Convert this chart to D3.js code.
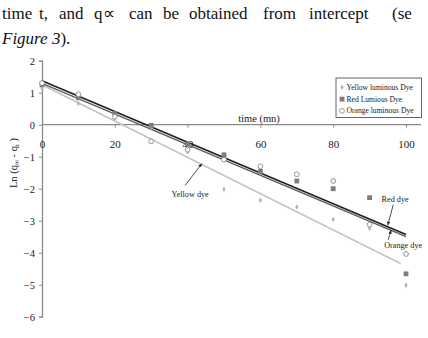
<!DOCTYPE html>
<html>
<head>
<meta charset="utf-8">
<script src="https://cdn.jsdelivr.net/npm/d3@7"></script>
<style>
  body { margin: 0; background: #fff; }
  svg text { font-family: "Liberation Serif", "Times New Roman", serif; }
</style>
</head>
<body>
<svg id="chart"></svg>
<script>
const width = 428, height = 338

// measured values, Ln(q_inf - q_t) vs time (min)
const times = [0, 10, 20, 30, 40, 50, 60, 70, 80, 90, 100]
const yellowVals = [1.15, 0.66, 0.2, -0.08, -0.85, -2.02, -2.36, -2.57, -2.96, -3.24, -5.02]
const redVals = [1.25, 0.84, 0.35, -0.02, -0.6, -0.94, -1.46, -1.76, -2.0, -2.28, -4.66]
const orangeVals = [1.3, 0.95, 0.25, -0.52, -0.78, -1.09, -1.3, -1.55, -1.76, -3.12, -4.04]

// fitted trend lines (end points)
const yellowFitT = [0, 98.5], yellowFitV = [1.25, -4.34]
const redFitT = [0, 100], redFitV = [1.37, -3.43]
const orangeFitT = [0, 100], orangeFitV = [1.29, -3.5]

const xTicks = [0, 20, 40, 60, 80, 100]
const yTicks = [2, 1, 0, -1, -2, -3, -4, -5, -6]
const legendLabels = ["Yellow luminous Dye", "Red Lumious Dye", "Orange luminous Dye"]

const svg = d3.select("svg#chart")
    .attr("width", width)
    .attr("height", height)

// paragraph text above the figure
const line1 = [["time", 2], ["t,", 39], ["and", 59], ["q\u221D", 94], ["can", 129], ["be", 163],
    ["obtained", 189], ["from", 263], ["intercept", 309], ["(se", 392]]
svg.append("g").selectAll("text")
    .data(line1)
    .enter()
    .append("text")
    .attr("x", d => d[1])
    .attr("y", 19)
    .attr("font-size", 17)
    .attr("fill", "#111")
    .text(d => d[0])

const fig = svg.append("text").attr("x", 2).attr("y", 44).attr("font-size", 17).attr("fill", "#111")
fig.append("tspan").attr("font-style", "italic").text("Figure 3")
fig.append("tspan").text(").")

const x = d3.scaleLinear().domain([0, 100]).range([42, 406])
const y = d3.scaleLinear().domain([-6, 2]).range([316.7, 60.7])

const axisColor = "#8a8a8a"

// y axis
const yAxis = svg.append("g")
    .attr("transform", `translate(${x(0)}, 0)`)
    .call(d3.axisLeft(y).tickValues(yTicks).tickSize(3).tickFormat(d3.format("d")))
yAxis.select(".domain").attr("stroke", axisColor).attr("stroke-width", 1.3)
yAxis.selectAll(".tick line").attr("stroke", axisColor)
yAxis.selectAll(".tick text")
    .attr("font-family", "Liberation Serif, serif")
    .attr("font-size", 10.5)
    .attr("fill", "#222")
    .attr("x", -7)

// x axis at y = 0
const xAxis = svg.append("g")
    .attr("transform", `translate(0, ${y(0)})`)
    .call(d3.axisBottom(x).tickValues(xTicks).tickSize(3).tickSizeOuter(0))
xAxis.select(".domain").attr("stroke", axisColor).attr("stroke-width", 1.3)
    .attr("d", `M${x(0)},0H421`)
xAxis.selectAll(".tick line").attr("stroke", axisColor)
xAxis.selectAll(".tick text")
    .attr("font-family", "Liberation Serif, serif")
    .attr("font-size", 11)
    .attr("fill", "#222")
    .attr("dy", "1.1em")
    .attr("y", 11)

svg.append("text")
    .attr("x", 259)
    .attr("y", 121.5)
    .attr("text-anchor", "middle")
    .attr("font-size", 10.5)
    .attr("fill", "#222")
    .text("time (mn)")

// y axis label
const yl = svg.append("text")
    .attr("transform", "translate(17, 163) rotate(-90)")
    .attr("text-anchor", "middle")
    .attr("font-size", 10.5)
    .attr("fill", "#222")
yl.append("tspan").text("Ln (q")
yl.append("tspan").attr("font-size", 7).attr("dy", 2).text("\u221E")
yl.append("tspan").attr("dy", -2).text(" - q")
yl.append("tspan").attr("font-size", 7).attr("dy", 2).text("t")
yl.append("tspan").attr("dy", -2).text(" )")

// trend lines
const fits = [
    {t: yellowFitT, v: yellowFitV, color: "#c4c4c4", w: 1.6},
    {t: orangeFitT, v: orangeFitV, color: "#5a5a5a", w: 1.3},
    {t: redFitT, v: redFitV, color: "#1e1e1e", w: 1.6},
]
svg.append("g").selectAll("line")
    .data(fits)
    .enter()
    .append("line")
    .attr("x1", d => x(d.t[0]))
    .attr("y1", d => y(d.v[0]))
    .attr("x2", d => x(d.t[1]))
    .attr("y2", d => y(d.v[1]))
    .attr("stroke", d => d.color)
    .attr("stroke-width", d => d.w)

// markers
const yellowPts = times.map((t, i) => [t, yellowVals[i]])
const redPts = times.map((t, i) => [t, redVals[i]])
const orangePts = times.map((t, i) => [t, orangeVals[i]])

function drawYellow(g) {
    g.append("path")
        .attr("d", d3.symbol(d3.symbolDiamond, 9)())
        .attr("fill", "#b3b3b3")
}
function drawRed(g) {
    g.append("rect")
        .attr("x", -2.4).attr("y", -2.4)
        .attr("width", 4.8).attr("height", 4.8)
        .attr("fill", "#7d7d7d")
}
function drawOrange(g) {
    g.append("circle")
        .attr("r", 2.4)
        .attr("fill", "#fff")
        .attr("stroke", "#8a8a8a")
        .attr("stroke-width", 0.9)
}

svg.append("g").selectAll("g")
    .data(yellowPts).enter().append("g")
    .attr("transform", d => `translate(${x(d[0])}, ${y(d[1])})`)
    .each(function () { drawYellow(d3.select(this)) })
svg.append("g").selectAll("g")
    .data(redPts).enter().append("g")
    .attr("transform", d => `translate(${x(d[0])}, ${y(d[1])})`)
    .each(function () { drawRed(d3.select(this)) })
svg.append("g").selectAll("g")
    .data(orangePts).enter().append("g")
    .attr("transform", d => `translate(${x(d[0])}, ${y(d[1])})`)
    .each(function () { drawOrange(d3.select(this)) })

// annotations with arrows
svg.append("defs").append("marker")
    .attr("id", "arrow")
    .attr("viewBox", "0 0 10 10")
    .attr("refX", 9).attr("refY", 5)
    .attr("markerWidth", 5).attr("markerHeight", 5)
    .attr("orient", "auto")
    .append("path")
    .attr("d", "M0,1L10,5L0,9z")
    .attr("fill", "#222")

const notes = [
    {label: "Yellow dye", tx: 40.7, tv: -2.25, anchor: "middle", from: [39.3, -1.9], to: [43.9, -1.22]},
    {label: "Red dye", tx: 93.3, tv: -2.42, anchor: "start", from: [96.5, -2.5], to: [95.0, -3.14]},
    {label: "Orange dye", tx: 94.0, tv: -3.86, anchor: "start", from: [95.1, -3.6], to: [95.9, -3.3]},
]
svg.append("g").selectAll("line")
    .data(notes)
    .enter()
    .append("line")
    .attr("x1", d => x(d.from[0]))
    .attr("y1", d => y(d.from[1]))
    .attr("x2", d => x(d.to[0]))
    .attr("y2", d => y(d.to[1]))
    .attr("stroke", "#222")
    .attr("stroke-width", 0.8)
    .attr("marker-end", "url(#arrow)")
svg.append("g").selectAll("text")
    .data(notes)
    .enter()
    .append("text")
    .attr("x", d => x(d.tx))
    .attr("y", d => y(d.tv))
    .attr("text-anchor", d => d.anchor)
    .attr("font-size", 8.2)
    .attr("fill", "#222")
    .text(d => d.label)

// legend
const legend = svg.append("g").attr("transform", "translate(336, 78)")
legend.append("rect")
    .attr("width", 85.5).attr("height", 39.5)
    .attr("fill", "#fff")
    .attr("stroke", "#555")
    .attr("stroke-width", 0.9)
const drawers = [drawYellow, drawRed, drawOrange]
const items = legend.selectAll("g.item")
    .data(legendLabels)
    .enter()
    .append("g").classed("item", true)
    .attr("transform", (d, i) => `translate(6, ${9.3 + i * 11.8})`)
items.each(function (d, i) { drawers[i](d3.select(this)) })
items.append("text")
    .attr("x", 4.5)
    .attr("dy", "0.33em")
    .attr("font-size", 7.6)
    .attr("fill", "#222")
    .text(d => d)
</script>
</body>
</html>
